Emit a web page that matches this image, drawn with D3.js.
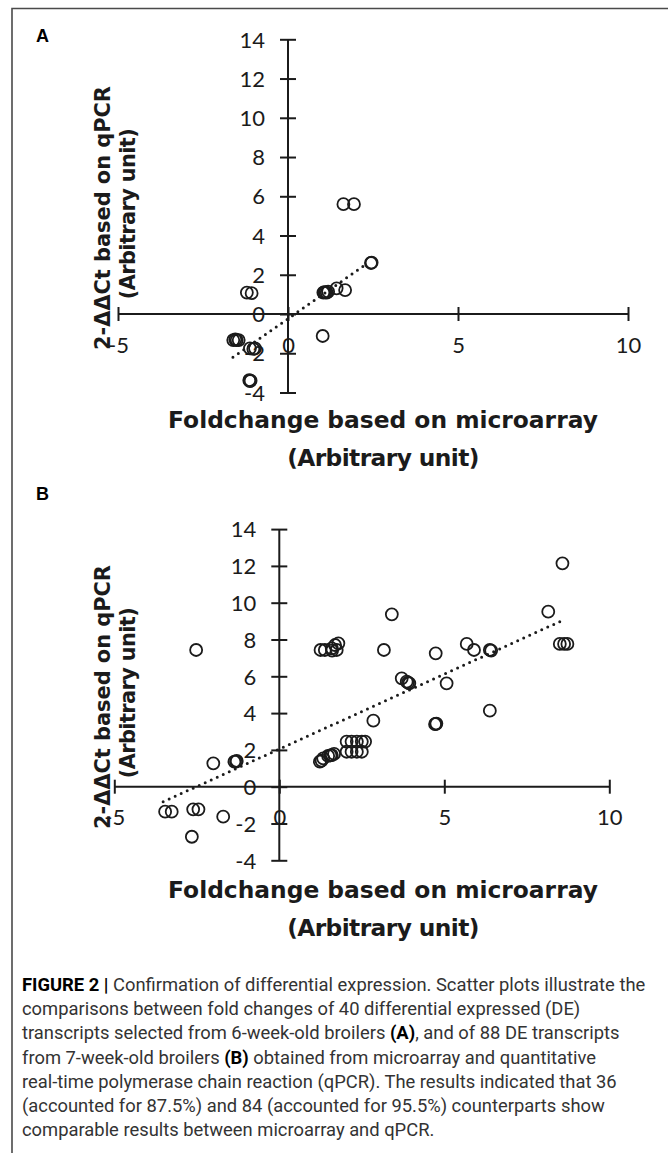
<!DOCTYPE html>
<html>
<head>
<meta charset="utf-8">
<script src="https://cdn.jsdelivr.net/npm/d3@7/dist/d3.min.js"></script>
<style>
  html, body { margin: 0; padding: 0; background: #fff; }
  svg { display: block; }
</style>
</head>
<body>
<svg id="fig" width="668" height="1153"></svg>
<script>
// Axis ticks shared by both panels
const xTicks = [-5, 0, 5, 10];
const yTicks = [-4, -2, 0, 2, 4, 6, 8, 10, 12, 14];
const xDomain = [-5, 10];
const yDomain = [-4, 14];

// Panel A: 6-week-old broilers (microarray fold change, qPCR 2-ΔΔCt)
const pointsA = [
  [-1.61, -1.33], [-1.55, -1.30], [-1.51, -1.33], [-1.45, -1.33],
  [-1.12, -1.75], [-1.02, -1.78], [-0.97, -1.75],
  [-1.14, -3.37], [-1.12, -3.42], [-1.10, -3.40],
  [-1.21, 1.09], [-1.07, 1.06],
  [1.02, -1.12],
  [1.04, 1.09], [1.07, 1.12], [1.10, 1.10], [1.14, 1.09], [1.18, 1.14],
  [1.43, 1.31], [1.68, 1.22],
  [1.63, 5.6], [1.94, 5.6],
  [2.46, 2.62], [2.44, 2.60]
];
const trendA = [[-1.62, -2.2], [2.35, 2.6]];

// Panel B: 7-week-old broilers
const pointsB = [
  [-3.46, -1.36], [-3.26, -1.36], [-2.61, -1.23], [-2.45, -1.23],
  [-1.70, -1.63], [-2.65, -2.72], [-2.52, 7.43], [-2.0, 1.27],
  [-1.36, 1.36], [-1.31, 1.36], [-1.29, 1.40],
  [1.23, 1.36], [1.28, 1.42], [1.33, 1.54], [1.48, 1.67], [1.55, 1.70], [1.59, 1.72], [1.66, 1.78],
  [2.04, 2.45], [2.19, 2.45], [2.35, 2.45], [2.50, 2.45], [2.60, 2.45],
  [2.04, 1.90], [2.19, 1.90], [2.35, 1.90], [2.50, 1.90],
  [2.85, 3.59],
  [1.25, 7.43], [1.38, 7.43], [1.59, 7.52], [1.69, 7.70], [1.79, 7.79], [1.74, 7.43], [1.60, 7.40],
  [3.17, 7.43], [3.41, 9.37],
  [3.71, 5.89], [3.86, 5.71], [3.94, 5.62], [3.90, 5.65],
  [4.74, 7.25], [5.07, 5.62], [4.74, 3.41], [4.76, 3.43], [4.72, 3.40],
  [5.68, 7.76], [5.90, 7.43], [6.38, 7.43], [6.42, 7.40], [6.38, 4.13],
  [8.15, 9.51], [8.58, 12.14], [8.50, 7.76], [8.63, 7.76], [8.73, 7.76]
];
const trendB = [[-3.52, -0.82], [8.56, 9.02]];

// Titles and caption text
const xTitle = ["Foldchange based on microarray", "(Arbitrary unit)"];
const yTitle = ["2-ΔΔCt based on qPCR", "(Arbitrary unit)"];
const captionLines = [
  [["FIGURE 2 | ", true], ["Confirmation of differential expression. Scatter plots illustrate the", false]],
  [["comparisons between fold changes of 40 differential expressed (DE)", false]],
  [["transcripts selected from 6-week-old broilers ", false], ["(A)", true], [", and of 88 DE transcripts", false]],
  [["from 7-week-old broilers ", false], ["(B)", true], [" obtained from microarray and quantitative", false]],
  [["real-time polymerase chain reaction (qPCR). The results indicated that 36", false]],
  [["(accounted for 87.5%) and 84 (accounted for 95.5%) counterparts show", false]],
  [["comparable results between microarray and qPCR.", false]]
];

const svg = d3.select("#fig");
const INK = "#1b1b1b";
const TICK_FONT = "Lato, 'Open Sans', sans-serif";
const TITLE_FONT = "'DejaVu Sans', Verdana, sans-serif";

// Outer frame (top and left rules)
svg.append("path")
  .attr("d", "M668,8.5 H12 V1153")
  .attr("fill", "none")
  .attr("stroke", "#4a4a4a")
  .attr("stroke-width", 1.6);

// Adjusts the font size so the text spans the given width; returns the size
function fitWidth(sel, width) {
  const node = sel.node();
  const fs = parseFloat(sel.attr("font-size"));
  const w = node.getComputedTextLength();
  const size = w > 0 ? fs * width / w : fs;
  sel.attr("font-size", size.toFixed(2));
  return size;
}

function drawPanel(cfg) {
  const g = svg.append("g");
  const x = d3.scaleLinear().domain(xDomain).range(cfg.xRange);
  const y = d3.scaleLinear().domain(yDomain).range(cfg.yRange);

  // panel letter
  g.append("text")
    .attr("x", 36).attr("y", cfg.letterY)
    .attr("font-family", "'Liberation Sans', Arial, sans-serif")
    .attr("font-weight", "bold").attr("font-size", 18)
    .attr("fill", "#000")
    .text(cfg.letter);

  // horizontal axis through y = 0
  const xa = g.append("g")
    .attr("transform", `translate(0,${y(0)})`)
    .call(d3.axisBottom(x).tickValues(xTicks).tickSize(8).tickFormat(d => String(d)));
  xa.select(".domain").remove();
  xa.insert("line", ":first-child")
    .attr("x1", x(xDomain[0])).attr("x2", x(xDomain[1]))
    .attr("stroke", INK).attr("stroke-width", 2);
  xa.selectAll(".tick line").attr("y1", -7).attr("y2", 7).attr("stroke", INK).attr("stroke-width", 2);
  xa.selectAll(".tick text")
    .attr("y", 31).attr("dy", "0.35em")
    .attr("font-family", TICK_FONT).attr("font-size", 22).attr("fill", INK);

  // vertical axis through x = 0
  const ya = g.append("g")
    .attr("transform", `translate(${x(0)},0)`)
    .call(d3.axisLeft(y).tickValues(yTicks).tickSize(8).tickFormat(d => String(d)));
  ya.select(".domain").remove();
  ya.insert("line", ":first-child")
    .attr("y1", y(yDomain[0])).attr("y2", y(yDomain[1]))
    .attr("stroke", INK).attr("stroke-width", 2);
  ya.selectAll(".tick line").attr("x1", -8).attr("x2", 8).attr("stroke", INK).attr("stroke-width", 2);
  ya.selectAll(".tick text")
    .attr("x", -23).attr("dy", "0.35em")
    .attr("font-family", TICK_FONT).attr("font-size", 22).attr("fill", INK);

  // dotted linear trend
  g.append("path")
    .datum(cfg.trend)
    .attr("d", d3.line().x(d => x(d[0])).y(d => y(d[1])))
    .attr("fill", "none")
    .attr("stroke", INK)
    .attr("stroke-width", 3)
    .attr("stroke-linecap", "round")
    .attr("stroke-dasharray", "0,6.6");

  // open circle markers
  g.append("g").selectAll("circle")
    .data(cfg.points)
    .join("circle")
    .attr("cx", d => x(d[0]))
    .attr("cy", d => y(d[1]))
    .attr("r", 6)
    .attr("fill", "none")
    .attr("stroke", INK)
    .attr("stroke-width", 1.8);

  // x-axis title (two lines, same size)
  const xt1 = g.append("text")
    .attr("x", 383).attr("y", cfg.xTitleY[0])
    .attr("text-anchor", "middle")
    .attr("font-family", TITLE_FONT).attr("font-weight", "bold")
    .attr("font-size", 20).attr("fill", INK)
    .text(xTitle[0]);
  const xs = fitWidth(xt1, 430);
  g.append("text")
    .attr("x", 383).attr("y", cfg.xTitleY[1])
    .attr("text-anchor", "middle")
    .attr("font-family", TITLE_FONT).attr("font-weight", "bold")
    .attr("font-size", xs.toFixed(2)).attr("letter-spacing", -0.6).attr("fill", INK)
    .text(xTitle[1]);

  // y-axis title (rotated, two lines, same size)
  const yt1 = g.append("text")
    .attr("transform", `translate(103,${cfg.yTitleY}) rotate(-90)`)
    .attr("dy", "0.35em")
    .attr("text-anchor", "middle")
    .attr("font-family", TITLE_FONT).attr("font-weight", "bold")
    .attr("font-size", 20).attr("fill", INK)
    .text(yTitle[0]);
  const ys = fitWidth(yt1, 264);
  g.append("text")
    .attr("transform", `translate(128,${cfg.yTitleY - 4}) rotate(-90)`)
    .attr("dy", "0.35em")
    .attr("text-anchor", "middle")
    .attr("font-family", TITLE_FONT).attr("font-weight", "bold")
    .attr("font-size", ys.toFixed(2)).attr("letter-spacing", -0.6).attr("fill", INK)
    .text(yTitle[1]);
}

drawPanel({
  letter: "A", letterY: 42,
  xRange: [118, 628], yRange: [392.5, 39.3],
  points: pointsA, trend: trendA,
  xTitleY: [428, 466], yTitleY: 218
});

drawPanel({
  letter: "B", letterY: 500,
  xRange: [114.3, 609.3], yRange: [860.3, 529.1],
  points: pointsB, trend: trendB,
  xTitleY: [898, 936], yTitleY: 697
});

// Figure caption
const cap = svg.append("g")
  .attr("font-family", "Roboto, 'Liberation Sans', Arial, sans-serif")
  .attr("font-size", 17)
  .attr("fill", "#333");
captionLines.forEach((parts, i) => {
  const t = cap.append("text").attr("x", 22).attr("y", 991 + i * 24.2);
  parts.forEach(([s, bold]) => {
    t.append("tspan")
      .attr("font-weight", bold ? "bold" : "normal")
      .attr("fill", bold ? "#000" : "#333")
      .text(s);
  });
});
// scale caption so the first line reaches the right margin
{
  const first = cap.select("text").node();
  const w = first.getComputedTextLength();
  if (w > 0) cap.attr("font-size", (17 * 624 / w).toFixed(2));
}
</script>
</body>
</html>
